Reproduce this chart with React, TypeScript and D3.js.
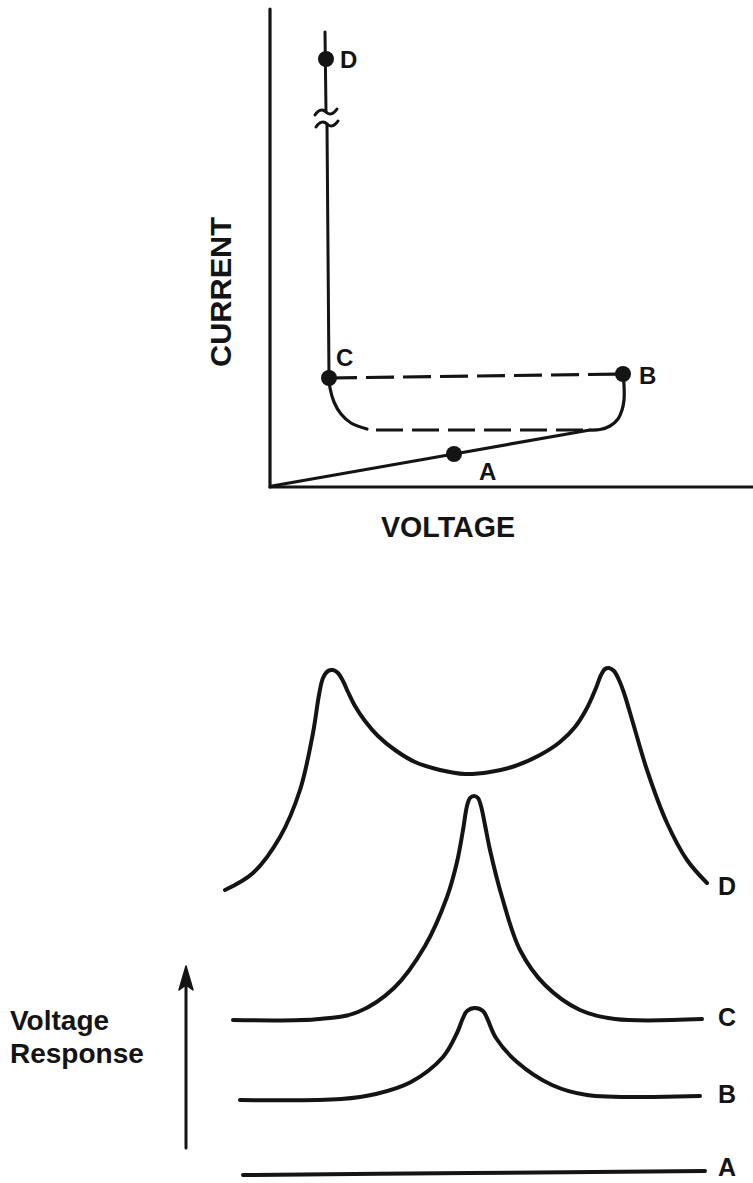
import React from 'react';
import * as d3 from 'd3';

const W = 753;
const H = 1183;

// ---------- Top chart: current vs voltage (arbitrary units) ----------
const ivOhmic: [number, number][] = [[0.4, 0.2], [36.8, 6.6], [64, 11.4]];
const ivKnee: [number, number][] = [[64, 11.4], [66, 11.5], [68, 12.2], [69.6, 13.6], [70.4, 15.4], [70.8, 17.4], [70.8, 20.4], [70.6, 22.6]];
const ivReturnSolid: [number, number][] = [[11.8, 21.8], [12, 19.8], [12.8, 17], [14.2, 14.6], [16.2, 12.8], [19.4, 11.6]];
const ivReturnDashed: [number, number][] = [[21.2, 11.4], [64, 11.4]];
const ivSwitchDashed: [number, number][] = [[11.8, 21.8], [70.6, 22.6]];
const ivVerticalLow: [number, number][] = [[11.8, 21.8], [11.4, 72.6]];
const ivVerticalHigh: [number, number][] = [[11.2, 75], [11, 91]];
const ivBreakMarks: [number, number][] = [[11.2, 75], [11.4, 72.6]];
const ivPoints = [
  { name: 'A', x: 36.8, y: 6.6 },
  { name: 'B', x: 70.6, y: 22.6 },
  { name: 'C', x: 11.8, y: 21.8 },
  { name: 'D', x: 11.2, y: 85.6 },
];
const ivAxisTitles = { x: 'VOLTAGE', y: 'CURRENT' };

// ---------- Bottom chart: voltage response curves ----------
const respD: [number, number][] = [
  [0, 56.6], [5.6, 60], [11, 67.2], [15, 76.6], [17.6, 88], [18.8, 95.6], [19.6, 99], [20.6, 100.4],
  [21.6, 100.6], [22.6, 100], [23.6, 98.4], [24.6, 96.2], [26, 93.4], [28, 90.4], [30.6, 87.4], [34, 84.6],
  [38, 82.2], [43, 80.6], [48, 79.8], [53, 80.2], [58, 81.4], [63, 83.6], [67, 86.2], [70, 89.2],
  [72.4, 93], [74.2, 97], [75.2, 99.6], [76, 100.8], [76.8, 101], [77.8, 100.4], [78.8, 98.6], [79.8, 96],
  [81.6, 90], [84.4, 80.6], [88.4, 70], [92.4, 62.6], [96.4, 58],
];
const respC: [number, number][] = [
  [1.6, 30.6], [19, 30.8], [26.6, 32.2], [33.8, 37], [40, 45.4], [44.4, 55.2], [46.4, 62.2], [47.6, 68.6],
  [48.4, 73.4], [49, 75], [49.8, 75.4], [50.6, 75], [51.2, 73.4], [52, 69.6], [53, 64.6], [55.4, 55.2],
  [59, 44.6], [64, 37.6], [71, 32.6], [78, 30.8], [95.4, 30.8],
];
const respB: [number, number][] = [
  [3, 14.6], [23.2, 14.8], [30.2, 15.8], [37.2, 18.2], [43.6, 23.2], [46.4, 28], [47.6, 31], [48.4, 32.4],
  [50, 33], [51.6, 32.4], [52.4, 31], [54.2, 27], [58.4, 22.2], [65.4, 17.6], [72.4, 15.6], [95, 15.4],
];
const respA: [number, number][] = [[3.6, -0.4], [49, 0], [96, 0.4]];
const respSeries = [
  { name: 'D', pts: respD, labelY: 57.4 },
  { name: 'C', pts: respC, labelY: 31.2 },
  { name: 'B', pts: respB, labelY: 15.8 },
  { name: 'A', pts: respA, labelY: 1.2 },
];
const respArrow: [number, number] = [5, 41];
const respArrowX = -7.8;
const respLabelX = 98.6;
const respTitle = ['Voltage', 'Response'];

const INK = '#141414';
const FONT = '"Liberation Sans", Arial, Helvetica, sans-serif';

export default function App() {
  const xT = d3.scaleLinear().domain([0, 100]).range([270, 770]);
  const yT = d3.scaleLinear().domain([0, 100]).range([487, -13]);
  const xB = d3.scaleLinear().domain([0, 100]).range([225, 725]);
  const yB = d3.scaleLinear().domain([0, 100]).range([1173, 673]);

  const lineT = d3.line<[number, number]>().x((d) => xT(d[0])).y((d) => yT(d[1]));
  const curveT = d3.line<[number, number]>().x((d) => xT(d[0])).y((d) => yT(d[1])).curve(d3.curveCatmullRom.alpha(0.5));
  const curveB = d3.line<[number, number]>().x((d) => xB(d[0])).y((d) => yB(d[1])).curve(d3.curveCatmullRom.alpha(0.5));

  const labelOffsets: Record<string, [number, number]> = {
    A: [25, 17],
    B: [16, 1],
    C: [7, -21],
    D: [14, 0],
  };

  const tilde = 'M -11 3 C -7 -3, -3 -3, 0 0 S 7 3, 11 -3';

  return (
    <svg width={W} height={H} viewBox={`0 0 ${W} ${H}`} style={{ position: 'absolute', left: 0, top: 0, background: '#fff' }}>
      <rect x={0} y={0} width={W} height={H} fill="#fff" />
      {/* ---------- top chart ---------- */}
      <g fill="none" stroke={INK} strokeLinecap="round" strokeLinejoin="round">
        <line x1={xT(0)} y1={yT(0)} x2={xT(0)} y2={yT(95.6)} strokeWidth={3.2} />
        <line x1={xT(0)} y1={yT(0)} x2={xT(100)} y2={yT(0)} strokeWidth={3.2} />
        <path d={lineT(ivOhmic) || ''} strokeWidth={3.2} />
        <path d={curveT(ivKnee) || ''} strokeWidth={3.2} />
        <path d={curveT(ivReturnSolid) || ''} strokeWidth={3.2} />
        <path d={lineT(ivReturnDashed) || ''} strokeWidth={3.2} strokeDasharray="27 9" strokeLinecap="butt" />
        <path d={lineT(ivSwitchDashed) || ''} strokeWidth={3.2} strokeDasharray="28 9" strokeLinecap="butt" />
        <path d={lineT(ivVerticalLow) || ''} strokeWidth={3} />
        <path d={lineT(ivVerticalHigh) || ''} strokeWidth={3} />
        {ivBreakMarks.map((p, i) => (
          <path key={i} d={tilde} transform={`translate(${xT(p[0])},${yT(p[1])})`} strokeWidth={3} />
        ))}
      </g>
      {ivPoints.map((p) => (
        <g key={p.name}>
          <circle cx={xT(p.x)} cy={yT(p.y)} r={8} fill={INK} />
          <text
            x={xT(p.x) + labelOffsets[p.name][0]}
            y={yT(p.y) + labelOffsets[p.name][1]}
            dominantBaseline="central"
            fontFamily={FONT}
            fontWeight={700}
            fontSize={24}
            fill={INK}
          >
            {p.name}
          </text>
        </g>
      ))}
      <text
        x={448}
        y={537}
        textAnchor="middle"
        fontFamily={FONT}
        fontWeight={700}
        fontSize={29}
        fill={INK}
        textLength={134}
        lengthAdjust="spacingAndGlyphs"
      >
        {ivAxisTitles.x}
      </text>
      <text
        transform="translate(231,292) rotate(-90)"
        textAnchor="middle"
        fontFamily={FONT}
        fontWeight={700}
        fontSize={30}
        fill={INK}
        textLength={150}
        lengthAdjust="spacingAndGlyphs"
      >
        {ivAxisTitles.y}
      </text>

      {/* ---------- bottom chart ---------- */}
      <g fill="none" stroke={INK} strokeLinecap="round" strokeLinejoin="round">
        {respSeries.map((s) => (
          <path key={s.name} d={curveB(s.pts) || ''} strokeWidth={4} />
        ))}
        <line x1={xB(respArrowX)} y1={yB(respArrow[0])} x2={xB(respArrowX)} y2={yB(respArrow[1]) + 10} strokeWidth={3} />
      </g>
      <path
        d={`M ${xB(respArrowX)} ${yB(respArrow[1]) - 2} L ${xB(respArrowX) + 7} ${yB(respArrow[1]) + 22} L ${xB(respArrowX)} ${yB(respArrow[1]) + 17} L ${xB(respArrowX) - 7} ${yB(respArrow[1]) + 22} Z`}
        fill={INK}
        stroke={INK}
        strokeWidth={1.5}
        strokeLinejoin="round"
      />
      {respSeries.map((s) => (
        <text
          key={s.name}
          x={xB(respLabelX)}
          y={yB(s.labelY)}
          dominantBaseline="central"
          fontFamily={FONT}
          fontWeight={700}
          fontSize={25}
          fill={INK}
        >
          {s.name}
        </text>
      ))}
      {respTitle.map((t, i) => (
        <text key={t} x={10} y={1030 + i * 33} fontFamily={FONT} fontWeight={700} fontSize={28} fill={INK}>
          {t}
        </text>
      ))}
    </svg>
  );
}
